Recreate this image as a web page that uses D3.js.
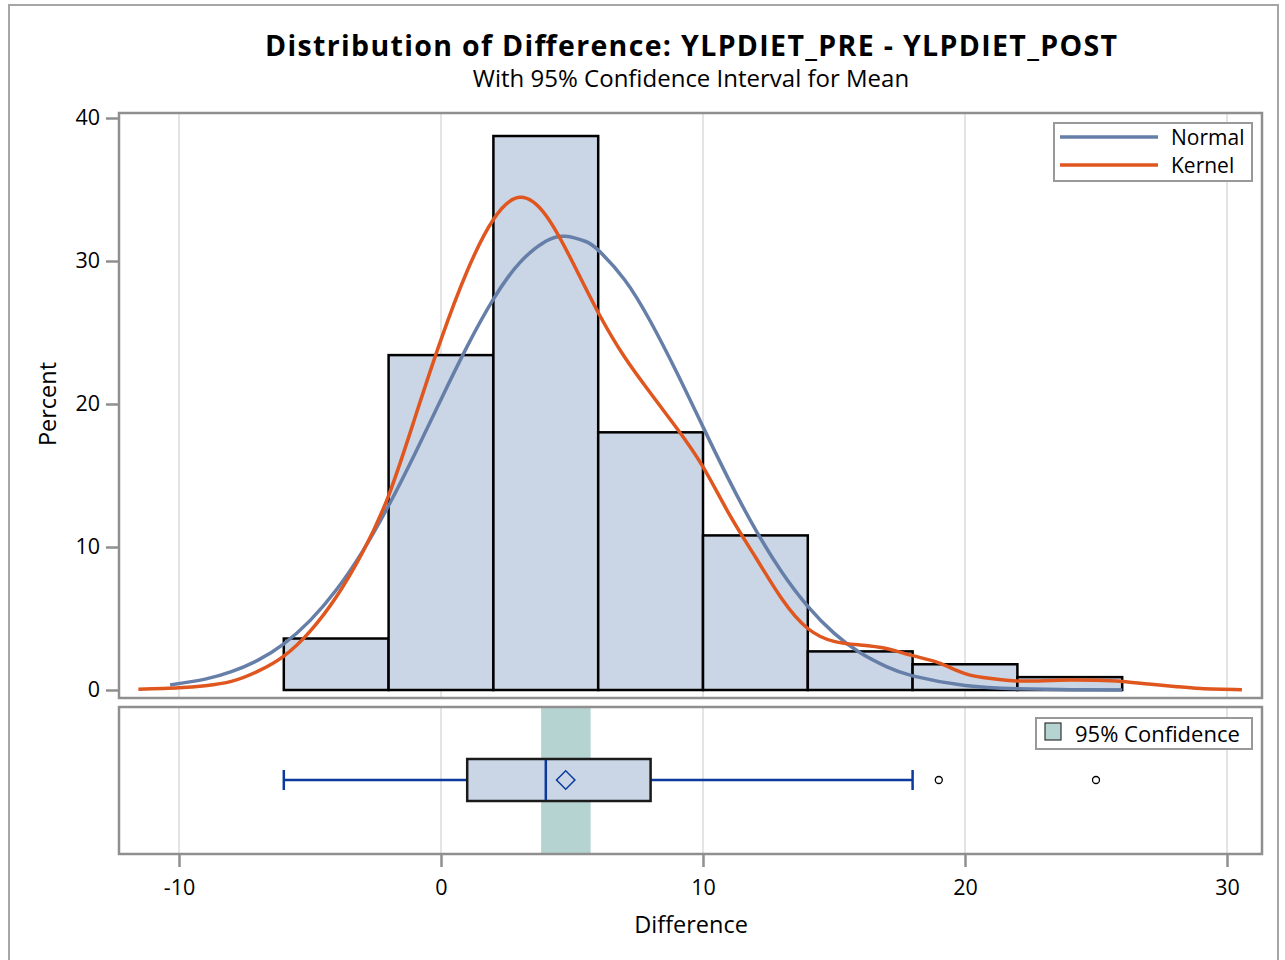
<!DOCTYPE html>
<html>
<head>
<meta charset="utf-8">
<script src="https://cdnjs.cloudflare.com/ajax/libs/d3/7.8.5/d3.min.js"></script>
<style>
body { margin: 0; background: #fff; }
text { font-family: "Open Sans", "Liberation Sans", Arial, sans-serif; fill: #000; }
</style>
</head>
<body>
<script>
// histogram bins (percent of obs)
var binStarts = [-6, -2, 2, 6, 10, 14, 18, 22];
var binWidth = 4;
var binPercents = [3.60, 23.42, 38.74, 18.02, 10.81, 2.70, 1.80, 0.90];

// fitted curves
var normalX = [-10.34, -9, -8, -7, -6, -5, -4, -3, -2, -1, 0, 1, 2, 3, 4, 4.75, 5.5, 6, 7, 8, 9, 10, 11, 12, 13, 14, 15, 16, 17, 18, 20, 22, 24, 26];
var normalY = [0.35, 0.76, 1.28, 2.07, 3.23, 4.85, 6.99, 9.68, 12.9, 16.51, 20.32, 24.03, 27.33, 29.87, 31.38, 31.73, 31.38, 30.76, 28.71, 25.75, 22.2, 18.4, 14.66, 11.23, 8.27, 5.85, 3.98, 2.6, 1.63, 0.99, 0.32, 0.09, 0.02, 0.0];
var kernelX = [-11.55, -10, -9, -8, -7, -6, -5, -4, -3, -2, -1, 0, 1, 2, 3, 4, 5, 6, 7, 8, 9, 10, 11, 12, 13, 14, 15, 16, 17, 18, 19, 20, 21, 22, 23, 24, 25, 26, 27, 28, 29, 30.57];
var kernelY = [0.05, 0.15, 0.3, 0.6, 1.3, 2.37, 4.1, 6.5, 9.6, 13.6, 19.0, 24.5, 29.3, 32.9, 34.45, 33.2, 30.0, 26.4, 23.3, 20.75, 18.3, 15.6, 12.3, 9.3, 6.4, 4.3, 3.4, 3.15, 2.9, 2.4, 1.9, 1.15, 0.8, 0.63, 0.65, 0.70, 0.68, 0.6, 0.42, 0.25, 0.1, 0.02];

// box plot
var whiskerLow = -6, q1 = 1, median = 4, q3 = 8, whiskerHigh = 18;
var meanValue = 4.76;
var outliers = [19, 25];
var meanCI = [3.82, 5.71];

var xTicks = [-10, 0, 10, 20, 30];
var yTicks = [0, 10, 20, 30, 40];

var width = 1285, height = 960;
var plotLeft = 119, plotRight = 1262;
var histTop = 113, histBottom = 698;
var boxTop = 707, boxBottom = 854;
var boxMid = 780;

var barFill = "#cad5e5";
var normalColor = "#667fa8";
var kernelColor = "#e0561f";
var boxBlue = "#0a3a9e";
var frameGray = "#8f8f8f";

var svg = d3.select("body").append("svg")
	.attr("width", width)
	.attr("height", height);

var xScale = d3.scaleLinear()
	.domain([-10, 30])
	.range([179, 1227]);

var yScale = d3.scaleLinear()
	.domain([0, 40])
	.range([690, 118]);

// outer frame
svg.append("rect")
	.attr("x", 9).attr("y", 5)
	.attr("width", 1269).attr("height", 970)
	.attr("fill", "none")
	.attr("stroke", "#a6a6a6")
	.attr("stroke-width", 2);

// titles
svg.append("text")
	.attr("x", 691).attr("y", 56)
	.attr("text-anchor", "middle")
	.attr("textLength", 852)
	.attr("lengthAdjust", "spacing")
	.style("font-size", "28.5px")
	.style("font-weight", "bold")
	.text("Distribution of Difference: YLPDIET_PRE - YLPDIET_POST");

svg.append("text")
	.attr("x", 691).attr("y", 87)
	.attr("text-anchor", "middle")
	.style("font-size", "24px")
	.text("With 95% Confidence Interval for Mean");

// vertical grid lines in both panels
var grid = svg.append("g");
[[histTop, histBottom], [boxTop, boxBottom]].forEach(function(p) {
	grid.selectAll(null)
		.data(xTicks)
		.enter().append("line")
		.attr("x1", function(d) { return xScale(d); })
		.attr("x2", function(d) { return xScale(d); })
		.attr("y1", p[0]).attr("y2", p[1])
		.attr("stroke", "#e4e4e4")
		.attr("stroke-width", 2);
});

// histogram
svg.append("g").selectAll("rect")
	.data(binStarts)
	.enter().append("rect")
	.attr("x", function(d) { return xScale(d); })
	.attr("y", function(d, i) { return yScale(binPercents[i]); })
	.attr("width", function(d) { return xScale(d + binWidth) - xScale(d); })
	.attr("height", function(d, i) { return yScale(0) - yScale(binPercents[i]); })
	.attr("fill", barFill)
	.attr("stroke", "#000")
	.attr("stroke-width", 2.5);

var line = d3.line()
	.x(function(d) { return xScale(d[0]); })
	.y(function(d) { return yScale(d[1]); })
	.curve(d3.curveNatural);

svg.append("path")
	.datum(d3.zip(normalX, normalY))
	.attr("d", line)
	.attr("fill", "none")
	.attr("stroke", normalColor)
	.attr("stroke-width", 3.5);

svg.append("path")
	.datum(d3.zip(kernelX, kernelY))
	.attr("d", line)
	.attr("fill", "none")
	.attr("stroke", kernelColor)
	.attr("stroke-width", 3.5);

// box panel: CI band first
svg.append("rect")
	.attr("x", xScale(meanCI[0]))
	.attr("y", boxTop)
	.attr("width", xScale(meanCI[1]) - xScale(meanCI[0]))
	.attr("height", boxBottom - boxTop)
	.attr("fill", "#b5d3d0");

var box = svg.append("g");

box.append("line")
	.attr("x1", xScale(whiskerLow)).attr("x2", xScale(whiskerHigh))
	.attr("y1", boxMid).attr("y2", boxMid)
	.attr("stroke", boxBlue).attr("stroke-width", 2.5);

box.selectAll(".cap")
	.data([whiskerLow, whiskerHigh])
	.enter().append("line")
	.attr("x1", function(d) { return xScale(d); })
	.attr("x2", function(d) { return xScale(d); })
	.attr("y1", boxMid - 10).attr("y2", boxMid + 10)
	.attr("stroke", boxBlue).attr("stroke-width", 2.5);

box.append("rect")
	.attr("x", xScale(q1))
	.attr("y", boxMid - 21)
	.attr("width", xScale(q3) - xScale(q1))
	.attr("height", 42)
	.attr("fill", barFill)
	.attr("stroke", "#1a1a1a")
	.attr("stroke-width", 2.5);

box.append("line")
	.attr("x1", xScale(median)).attr("x2", xScale(median))
	.attr("y1", boxMid - 20).attr("y2", boxMid + 20)
	.attr("stroke", boxBlue).attr("stroke-width", 2.5);

box.append("path")
	.attr("d", d3.symbol().type(d3.symbolSquare).size(170))
	.attr("transform", "translate(" + xScale(meanValue) + "," + boxMid + ") rotate(45)")
	.attr("fill", "none")
	.attr("stroke", boxBlue)
	.attr("stroke-width", 1.5);

box.selectAll(".outlier")
	.data(outliers)
	.enter().append("circle")
	.attr("cx", function(d) { return xScale(d); })
	.attr("cy", boxMid)
	.attr("r", 3.5)
	.attr("fill", "none")
	.attr("stroke", "#000")
	.attr("stroke-width", 1.3);

// panel frames
[[histTop, histBottom], [boxTop, boxBottom]].forEach(function(p) {
	svg.append("rect")
		.attr("x", plotLeft).attr("y", p[0])
		.attr("width", plotRight - plotLeft)
		.attr("height", p[1] - p[0])
		.attr("fill", "none")
		.attr("stroke", frameGray)
		.attr("stroke-width", 2.5);
});

// axes (plain hyphen for negatives, like the original)
var plainFormat = function(d) { return String(d); };

var yAxis = svg.append("g")
	.attr("transform", "translate(" + (plotLeft - 1) + ",0)")
	.call(d3.axisLeft(yScale).tickValues(yTicks).tickFormat(plainFormat).tickSize(12).tickPadding(6));

var xAxis = svg.append("g")
	.attr("transform", "translate(0," + (boxBottom + 1) + ")")
	.call(d3.axisBottom(xScale).tickValues(xTicks).tickFormat(plainFormat).tickSize(12).tickPadding(13));

[yAxis, xAxis].forEach(function(ax) {
	ax.select(".domain").remove();
	ax.selectAll(".tick line").attr("stroke", frameGray).attr("stroke-width", 2.5);
	ax.selectAll(".tick text")
		.style("font-size", "21.5px")
		.style("font-family", "'Open Sans', 'Liberation Sans', Arial, sans-serif")
		.attr("fill", "#000");
});

svg.append("text")
	.attr("transform", "translate(56,404) rotate(-90)")
	.attr("text-anchor", "middle")
	.style("font-size", "23.5px")
	.text("Percent");

svg.append("text")
	.attr("x", 691).attr("y", 933)
	.attr("text-anchor", "middle")
	.style("font-size", "23.5px")
	.text("Difference");

// legend for the curves
var legend = svg.append("g");
legend.append("rect")
	.attr("x", 1054).attr("y", 123)
	.attr("width", 198).attr("height", 58)
	.attr("fill", "#fff")
	.attr("stroke", "#999")
	.attr("stroke-width", 2);

var legendItems = [["Normal", normalColor], ["Kernel", kernelColor]];
legendItems.forEach(function(d, i) {
	legend.append("line")
		.attr("x1", 1060).attr("x2", 1158)
		.attr("y1", 137 + i * 28).attr("y2", 137 + i * 28)
		.attr("stroke", d[1])
		.attr("stroke-width", 3.5);
	legend.append("text")
		.attr("x", 1171).attr("y", 145 + i * 28)
		.style("font-size", "21px")
		.text(d[0]);
});

// legend for the CI band
var legend2 = svg.append("g");
legend2.append("rect")
	.attr("x", 1036).attr("y", 718)
	.attr("width", 216).attr("height", 31)
	.attr("fill", "#fff")
	.attr("stroke", "#999")
	.attr("stroke-width", 2);
legend2.append("rect")
	.attr("x", 1045).attr("y", 723)
	.attr("width", 16).attr("height", 17)
	.attr("fill", "#b5d3d0")
	.attr("stroke", "#333")
	.attr("stroke-width", 1.2);
legend2.append("text")
	.attr("x", 1075).attr("y", 742)
	.style("font-size", "22px")
	.text("95% Confidence");
</script>
</body>
</html>
